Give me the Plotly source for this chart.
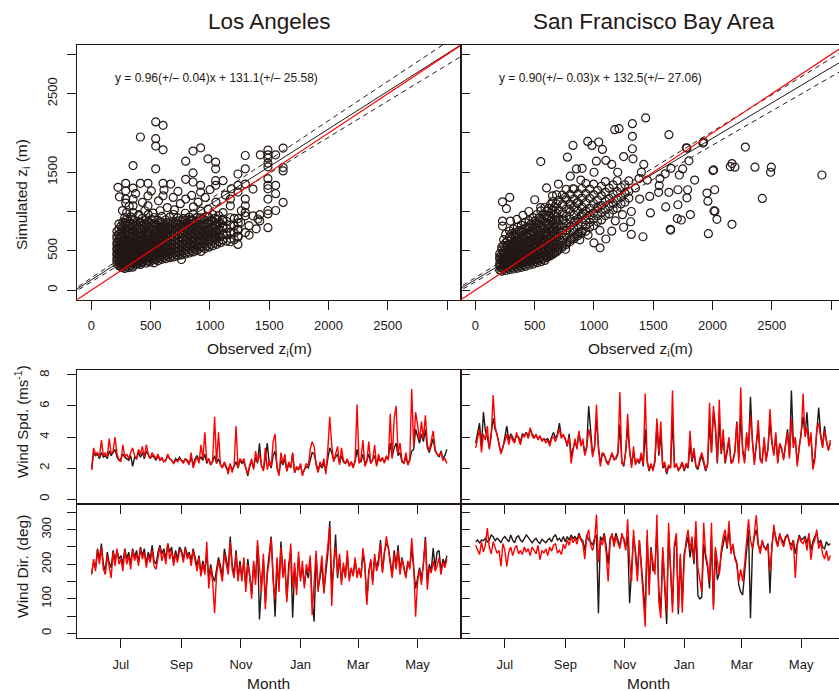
import pandas as pd
import plotly.graph_objects as go

W, H = 839, 691
INK = "#231815"
RED = "#ff0000"
FONT = "Liberation Sans, Arial, Helvetica, sans-serif"

cities = ["Los Angeles", "San Francisco Bay Area"]

# regression results: slope, slope error, intercept, intercept error
la_fit = [0.96, 0.04, 131.1, 25.58]
sf_fit = [0.90, 0.03, 132.5, 27.06]

# Los Angeles: observed z_i bins (m) and the simulated z_i (m) recorded in each bin
la_obs_bins = [215, 232, 248, 265, 281, 297, 314, 330, 347, 363, 380, 396, 413, 429, 446, 462,
               479, 495, 512, 528, 545, 561, 578, 594, 611, 627, 644, 660, 677, 693, 710, 726,
               743, 759, 776, 792, 809, 825, 842, 858, 875, 891, 908, 924, 941, 957, 974, 990,
               1007, 1023, 1040, 1056, 1073, 1089, 1106, 1139, 1172, 1205, 1238]
la_sim_by_bin = [
    [335, 372, 401, 447, 468, 512, 530, 577, 604, 655, 690, 748],
    [310, 352, 388, 421, 460, 493, 520, 566, 610, 642, 705, 770, 840],
    [296, 327, 369, 405, 441, 487, 515, 548, 592, 631, 684, 738, 812],
    [288, 334, 361, 398, 432, 470, 506, 547, 585, 622, 670, 731, 795, 866],
    [276, 318, 352, 389, 437, 459, 498, 536, 578, 627, 664, 712, 778, 852, 923],
    [301, 343, 382, 414, 453, 489, 527, 561, 603, 649, 697, 756, 829, 905, 988],
    [287, 325, 371, 408, 446, 471, 519, 553, 596, 638, 683, 741, 806, 877],
    [309, 347, 391, 428, 462, 503, 545, 582, 629, 674, 722, 788, 851, 932],
    [292, 338, 376, 417, 455, 496, 533, 571, 616, 667, 711, 769, 836, 902],
    [318, 356, 402, 441, 478, 519, 556, 601, 648, 693, 748, 817, 889],
    [331, 367, 409, 452, 486, 527, 569, 611, 659, 707, 763, 826],
    [341, 384, 423, 462, 501, 538, 583, 625, 677, 731, 792, 868, 947],
    [327, 372, 418, 457, 493, 534, 577, 619, 668, 718, 781, 853],
    [352, 394, 437, 476, 515, 558, 602, 651, 703, 762, 829, 914],
    [366, 405, 449, 488, 527, 566, 613, 661, 714, 779, 846],
    [344, 389, 432, 474, 512, 554, 597, 643, 691, 752, 818, 893],
    [371, 415, 458, 497, 538, 584, 628, 679, 735, 798, 872, 961],
    [358, 402, 447, 486, 528, 571, 617, 664, 721, 783, 853],
    [382, 426, 469, 511, 552, 596, 641, 693, 752, 819, 897],
    [347, 396, 441, 483, 525, 568, 612, 661, 717, 774, 842, 924],
    [389, 433, 476, 519, 561, 606, 656, 707, 768, 834],
    [373, 418, 463, 506, 548, 593, 642, 694, 751, 817, 889],
    [404, 447, 493, 536, 581, 628, 679, 737, 802, 871],
    [392, 437, 481, 527, 574, 622, 674, 728, 789, 858, 938],
    [417, 462, 508, 553, 601, 652, 707, 766, 834],
    [401, 448, 494, 541, 589, 641, 694, 753, 819, 893],
    [428, 474, 521, 569, 618, 671, 729, 792, 862],
    [413, 461, 508, 557, 607, 659, 716, 778, 847, 928],
    [437, 486, 534, 584, 636, 692, 752, 819],
    [422, 471, 521, 571, 624, 679, 738, 803, 877, 962],
    [449, 498, 549, 601, 656, 714, 777, 848],
    [436, 487, 538, 591, 646, 704, 768, 839, 918],
    [462, 513, 566, 621, 678, 739, 806, 881],
    [389, 447, 501, 554, 609, 667, 729, 797, 873],
    [474, 527, 582, 638, 697, 761, 832, 911],
    [459, 512, 567, 624, 683, 747, 816, 894, 978],
    [488, 543, 599, 657, 719, 786, 861],
    [472, 528, 584, 643, 706, 773, 848, 929],
    [501, 557, 616, 678, 743, 814, 893],
    [486, 543, 603, 666, 732, 804, 883, 968],
    [518, 576, 638, 703, 772, 849],
    [503, 562, 624, 691, 761, 838, 922],
    [531, 591, 656, 724, 797, 877],
    [492, 553, 617, 684, 756, 833, 918, 1004],
    [547, 609, 676, 746, 822, 905],
    [528, 592, 659, 731, 808, 891],
    [563, 627, 696, 769, 848, 934],
    [546, 612, 683, 758, 839, 927],
    [582, 649, 721, 798, 882],
    [564, 633, 706, 785, 869, 961],
    [601, 671, 746, 827, 914],
    [583, 655, 732, 814, 903],
    [619, 693, 772, 857, 949],
    [603, 678, 759, 846],
    [638, 714, 797, 886],
    [622, 701, 785, 876],
    [655, 738, 827, 921],
    [642, 726, 817, 914],
    [676, 762, 855],
]
# Los Angeles: remaining individual (observed, simulated) pairs
la_extra = [
    (224, 1308), (289, 1359), (289, 1264), (289, 1158), (289, 1107), (351, 1585), (351, 1299), (351, 1158),
    (351, 1073), (351, 987), (413, 1949), (413, 1359), (477, 1359), (477, 1200), (477, 1073), (542, 2141),
    (604, 2098), (542, 1927), (542, 1833), (604, 1786), (542, 1543), (604, 1359), (604, 1200), (669, 1350),
    (730, 1256), (795, 1641), (795, 1410), (795, 1158), (857, 1769), (857, 1492), (857, 1376), (921, 1811),
    (921, 1333), (921, 1248), (983, 1671), (983, 1030), (1048, 1628), (1048, 1543), (1048, 1393), (1048, 1333),
    (1110, 1393), (1110, 987), (1110, 902), (1110, 816), (1172, 1158), (1172, 1073), (1172, 731), (1172, 615),
    (1236, 1478), (1236, 1333), (1236, 1248), (1236, 774), (1236, 688), (1236, 581), (1298, 1713), (1298, 1543),
    (1298, 1350), (1298, 1158), (1298, 1073), (1298, 987), (1298, 945), (1298, 731), (1363, 1286), (1363, 945),
    (1420, 880), (1405, 905), (1425, 1722), (1489, 1782), (1489, 1722), (1489, 1679), (1489, 1615), (1489, 1569),
    (1489, 1418), (1489, 1333), (1489, 1290), (1489, 1158), (1489, 1013), (1489, 970), (1489, 795), (1554, 1722),
    (1554, 1333), (1554, 1227), (1554, 1013), (1617, 1808), (1617, 1560), (1617, 1517), (1617, 1116),
    (700, 1020), (750, 1100), (640, 1050), (580, 1010), (520, 980), (400, 960), (450, 1010), (860, 1060),
    (900, 1120), (960, 1180), (1000, 1280), (1050, 1120), (1130, 1210), (1260, 860), (1330, 820), (1390, 780),
    (1330, 700), (1420, 960), (262, 1012), (318, 1064), (236, 1187), (372, 1228), (430, 1116), (505, 1262),
    (566, 1136), (612, 1274), (690, 1180), (845, 1205), (1180, 1290), (1265, 1010), (1240, 910),
]

# San Francisco Bay Area: observed bins and simulated values in each bin
sf_obs_bins = [205, 222, 238, 255, 271, 288, 304, 321, 337, 354, 370, 387, 403, 420, 436, 453,
               469, 486, 502, 519, 535, 552, 568, 585, 601, 618, 634, 651, 667, 684, 700,
               733, 766, 799, 832, 865, 898, 931, 964, 997, 1030, 1063,
               1096, 1129, 1162, 1195, 1228, 1261, 1294]
sf_sim_by_bin = [
    [254, 312, 338, 395, 421, 463],
    [241, 279, 330, 371, 386, 447, 512, 548],
    [267, 298, 322, 369, 412, 458, 491, 566, 641],
    [249, 307, 344, 363, 402, 437, 482, 531, 602, 711],
    [276, 293, 327, 381, 425, 444, 509, 573, 628],
    [261, 318, 352, 373, 396, 466, 488, 557, 589, 673, 752],
    [287, 309, 341, 392, 447, 471, 536, 561, 644, 718],
    [268, 330, 358, 379, 428, 453, 502, 581, 603, 694, 779],
    [301, 322, 375, 416, 437, 489, 548, 571, 665, 733],
    [279, 341, 362, 388, 451, 468, 527, 609, 632, 711, 802],
    [312, 333, 389, 403, 466, 511, 538, 617, 679, 758],
    [289, 351, 368, 424, 445, 487, 562, 583, 661, 746, 827],
    [325, 347, 383, 441, 479, 505, 577, 638, 702, 769],
    [301, 361, 396, 417, 476, 527, 551, 629, 688, 781, 862],
    [338, 359, 421, 452, 483, 546, 597, 664, 729, 803],
    [319, 378, 401, 459, 488, 524, 603, 627, 716, 792, 884],
    [352, 371, 437, 468, 513, 572, 608, 693, 751, 842],
    [331, 392, 418, 473, 509, 551, 628, 659, 749, 826, 923],
    [367, 389, 448, 497, 532, 601, 641, 724, 798, 879],
    [349, 407, 441, 486, 547, 573, 661, 693, 787, 861, 962],
    [383, 401, 469, 518, 559, 628, 684, 752, 839, 916],
    [362, 426, 458, 507, 571, 603, 692, 738, 824, 903, 1007],
    [398, 421, 487, 541, 588, 659, 713, 791, 878, 961],
    [377, 441, 476, 529, 603, 632, 721, 784, 862, 948, 1051],
    [414, 436, 506, 562, 617, 688, 742, 831, 916, 1003],
    [428, 471, 522, 588, 641, 702, 779, 843, 947, 1041],
    [441, 463, 541, 597, 658, 734, 801, 887, 978, 1092],
    [456, 512, 551, 624, 679, 748, 833, 912, 1018, 1127],
    [473, 497, 579, 636, 702, 783, 852, 954, 1061],
    [488, 549, 587, 667, 721, 802, 889, 976, 1097, 1213],
    [509, 533, 618, 681, 749, 836, 909, 1022, 1138],
    [546, 569, 661, 728, 796, 889, 971, 1087, 1208],
    [581, 606, 702, 767, 849, 941, 1033, 1152, 1283],
    [617, 643, 741, 812, 902, 996, 1094, 1218],
    [654, 678, 783, 857, 953, 1053, 1161, 1287],
    [691, 715, 823, 903, 1006, 1112, 1227],
    [729, 753, 866, 948, 1058, 1171, 1293],
    [749, 823, 893, 1004, 1114, 1229, 1358],
    [801, 862, 951, 1043, 1168, 1287],
    [822, 909, 984, 1102, 1216, 1349],
    [873, 946, 1041, 1148, 1271],
    [893, 988, 1079, 1203, 1322],
    [949, 1023, 1131, 1246, 1381],
    [969, 1071, 1164, 1297],
    [1022, 1103, 1219, 1338],
    [1043, 1152, 1253, 1392],
    [1097, 1181, 1306],
    [1118, 1232, 1341],
    [1171, 1258, 1389],
]
sf_extra = [
    (1436, 2192), (1632, 1978), (1324, 2119), (1324, 1957), (1324, 1799), (1329, 1671), (2277, 1820), (1925, 1884),
    (1784, 1808), (1801, 1645), (2164, 1611), (2150, 1572), (2189, 1564), (2358, 1564), (2496, 1564), (2490, 1500),
    (2923, 1465), (2009, 1530), (1748, 1542), (1720, 1465), (1849, 1401), (1556, 1420), (1600, 1480), (1650, 1550),
    (2018, 1277), (1953, 1235), (1961, 1132), (1790, 1277), (1784, 1174), (1708, 1277), (1708, 1086), (1632, 1244),
    (1545, 1244), (1470, 1192), (1550, 1330), (2420, 1167), (1605, 1059), (2020, 1004), (2037, 901), (1813, 961),
    (1703, 910), (1737, 892), (1476, 982), (2164, 837), (1965, 718), (1647, 764), (1413, 679), (1315, 709),
    (1385, 1158), (1315, 1000), (1175, 2042), (1211, 2055), (947, 1892), (823, 1841), (983, 1841), (1040, 1885),
    (1071, 1790), (551, 1636), (776, 1692), (852, 1542), (1020, 1641), (1919, 1872), (1779, 1812), (2004, 1521),
    (2012, 1008), (1644, 773), (1051, 538), (228, 1123), (289, 1179), (261, 1038), (228, 879), (228, 815),
    (295, 879), (1400, 1500), (1450, 1400), (1350, 1300), (1380, 1420), (1420, 1600), (1200, 1500), (1150, 1600),
    (1100, 1650), (1250, 1700), (1000, 1500), (900, 1550), (600, 1300), (650, 1200), (500, 1150), (450, 1000),
    (400, 950), (350, 900), (550, 1050), (700, 1350), (800, 1450), (1150, 750), (1250, 800), (1100, 650),
    (1000, 600), (950, 700), (1180, 880), (1240, 960), (1050, 760), (880, 640), (1310, 870), (760, 520),
    (725, 610), (742, 905), (758, 1180), (771, 760), (790, 1030), (808, 655), (822, 1290), (841, 880),
    (856, 1110), (874, 735), (889, 1400), (905, 980),
]

# wind series sampled every second day from 1 June 2009
series_start = "2009-06-01"
series_step = "2D"

la_spd_obs = [
    1.9, 3.0, 2.8, 2.9, 2.6, 3.0, 2.7, 2.8, 2.6, 3.1, 2.8, 3.0, 3.2, 2.7, 2.5,
    2.6, 2.9, 2.7, 2.6, 2.5, 2.8, 2.1, 2.7, 2.6, 3.0, 2.7, 3.0, 2.6, 3.1, 2.8, 2.6, 2.8, 2.7, 2.5, 2.8, 2.5, 2.6, 2.4, 2.5, 2.8, 2.6, 2.5, 2.3, 2.6, 2.5, 2.7,
    2.5, 2.4, 2.6, 2.5, 2.3, 2.7, 2.2, 2.6, 2.8, 2.5, 2.7, 2.5, 2.9, 2.3, 2.6, 2.2, 2.4, 2.8, 2.3, 2.6, 2.2, 2.1, 2.3, 2.0, 1.9, 2.2, 1.9, 2.1, 2.4, 2.0, 2.5,
    2.3, 2.4, 2.0, 1.5, 2.1, 2.4, 2.0, 2.7, 2.3, 3.6, 2.1, 1.9, 2.6, 3.6, 2.3, 2.0, 2.8, 3.1, 2.1, 1.6, 2.5, 2.2, 2.6, 1.8, 2.3, 2.0, 2.9, 1.7, 2.0, 1.9, 2.2,
    1.6, 1.9, 2.1, 2.0, 2.6, 3.0, 2.9, 2.3, 1.8, 2.2, 2.0, 2.3, 1.8, 2.6, 3.3, 3.0, 2.5, 2.7, 2.9, 2.3, 2.8, 2.4, 2.3, 2.5, 2.2, 2.4, 2.1, 2.4, 3.2,
    2.5, 2.4, 2.9, 2.3, 2.5, 2.9, 2.3, 2.6, 2.8, 2.2, 2.6, 2.5, 2.6, 2.4, 2.7, 2.6, 3.6, 2.7, 3.3, 3.6, 2.8, 3.0, 2.4, 2.3, 2.7, 2.2, 2.5, 3.1, 3.2, 4.5, 4.0,
    3.6, 4.2, 3.7, 4.5, 3.3, 3.0, 3.5, 3.9, 3.1, 2.9, 2.7, 3.1, 2.6, 2.8, 3.2,
]
la_spd_sim = [
    1.9, 3.3, 2.9, 3.0, 2.7, 3.8, 2.8, 3.0, 2.7, 3.9, 2.9, 3.1, 4.0, 2.9, 2.5,
    2.4, 3.5, 2.7, 2.9, 2.6, 3.0, 3.3, 2.8, 2.6, 3.2, 2.9, 3.4, 2.7, 3.5, 2.9, 2.6, 3.0, 2.8, 2.6, 2.9, 2.5, 2.7, 2.4, 2.5, 2.9, 2.6, 2.5, 2.3, 2.5, 2.4, 2.6,
    2.5, 2.3, 2.6, 2.4, 2.2, 3.0, 2.0, 2.4, 2.7, 2.3, 3.5, 2.6, 4.3, 2.4, 2.6, 2.2, 2.5, 5.3, 2.3, 4.3, 2.2, 2.0, 2.4, 2.1, 1.6, 2.3, 1.7, 2.2, 4.7, 2.0, 2.6,
    2.4, 2.6, 2.0, 1.6, 2.2, 2.6, 1.9, 3.1, 2.4, 2.9, 2.2, 1.8, 3.3, 1.9, 2.5, 2.1, 3.7, 4.2, 2.0, 1.5, 3.0, 2.3, 2.9, 1.8, 2.4, 2.0, 3.0, 1.7, 2.1, 1.9, 2.3,
    1.5, 1.9, 2.3, 2.1, 3.2, 3.7, 3.4, 2.2, 1.7, 2.4, 2.1, 2.6, 1.6, 3.2, 5.3, 3.5, 2.4, 2.9, 3.4, 2.2, 3.3, 2.5, 2.3, 2.6, 2.1, 2.4, 2.0, 2.5, 6.1,
    2.3, 2.6, 3.8, 2.1, 2.4, 3.7, 2.3, 2.5, 3.5, 2.1, 2.9, 2.4, 2.7, 2.3, 2.8, 2.5, 5.5, 2.6, 5.2, 6.0, 2.9, 3.6, 2.5, 2.3, 3.0, 2.2, 2.6, 7.1, 3.4, 5.6, 4.8,
    3.8, 5.0, 3.9, 5.4, 3.5, 3.1, 3.7, 4.4, 3.2, 2.9, 2.8, 3.0, 2.5, 2.6, 2.3,
]
sf_spd_obs = [
    3.6, 4.3, 4.9, 3.4, 5.6, 4.4, 4.0, 3.3, 4.3, 5.2, 4.5, 4.2, 3.5, 3.0, 3.3,
    3.9, 4.7, 3.8, 4.2, 4.0, 3.7, 4.1, 4.0, 3.7, 4.2, 4.1, 4.3, 4.0, 4.5, 4.2, 4.0, 4.1, 3.9, 4.0, 3.8, 3.9, 3.8, 3.9, 3.6, 4.0, 4.3, 3.9, 4.2, 4.9, 4.0, 4.1,
    3.9, 3.4, 4.2, 2.8, 3.3, 3.7, 3.3, 4.3, 3.5, 3.7, 3.0, 3.4, 6.0, 4.2, 2.9, 3.3, 5.2, 3.4, 2.3, 2.9, 2.8, 2.5, 2.3, 2.6, 2.9, 2.6, 2.6, 2.9, 4.8, 2.4, 2.1,
    3.1, 4.6, 3.1, 2.2, 3.0, 2.3, 2.5, 2.3, 2.8, 2.1, 4.5, 2.4, 1.8, 2.2, 1.9, 2.4, 4.8, 2.8, 4.2, 2.0, 2.2, 1.6, 2.1, 2.0, 5.1, 2.1, 2.2, 1.9, 2.0, 2.3, 1.8,
    2.2, 2.0, 3.5, 2.4, 3.0, 2.1, 1.9, 2.4, 2.8, 2.3, 1.8, 2.2, 4.9, 3.0, 5.6, 4.6, 2.3, 5.0, 2.9, 4.0, 2.3, 3.0, 3.8, 2.4, 2.5, 3.1, 5.0, 2.6, 5.4,
    3.2, 2.5, 4.0, 3.3, 6.6, 3.7, 2.4, 3.4, 4.6, 2.6, 2.5, 3.8, 2.6, 3.3, 5.0, 3.6, 2.9, 4.1, 2.4, 3.5, 3.2, 2.6, 3.4, 4.5, 2.8, 7.0, 3.6, 3.9, 2.3, 3.3, 4.0,
    5.3, 4.1, 5.6, 3.5, 4.1, 2.2, 2.7, 4.3, 5.9, 4.2, 3.4, 4.7, 3.7, 3.2, 3.6,
]
sf_spd_sim = [
    3.3, 4.0, 4.5, 3.0, 4.2, 3.8, 4.7, 3.2, 4.0, 6.7, 4.7, 4.1, 3.6, 2.9, 3.4,
    3.7, 4.2, 3.5, 4.1, 3.8, 3.6, 4.3, 3.9, 3.5, 4.1, 4.0, 4.3, 3.9, 4.6, 4.1, 3.9, 4.2, 3.8, 4.1, 3.7, 3.9, 3.6, 3.8, 3.4, 3.9, 4.0, 3.7, 4.1, 4.5, 3.9, 4.2,
    3.8, 3.5, 4.0, 2.3, 3.1, 3.9, 3.2, 4.4, 3.4, 3.9, 2.8, 3.3, 4.5, 3.9, 2.7, 3.4, 6.1, 3.2, 2.1, 3.0, 2.9, 2.4, 2.2, 2.6, 3.0, 2.5, 2.7, 3.0, 6.9, 2.3, 2.2,
    3.0, 5.5, 3.2, 2.0, 3.4, 2.2, 2.6, 2.4, 3.0, 2.2, 6.8, 2.5, 1.9, 2.3, 1.8, 2.6, 5.2, 3.0, 5.0, 2.1, 2.4, 1.7, 2.2, 2.0, 7.0, 2.0, 2.3, 1.8, 2.1, 2.4, 1.9,
    2.3, 2.1, 4.4, 2.5, 3.3, 2.2, 2.0, 2.6, 3.0, 2.5, 1.9, 2.3, 6.2, 3.0, 6.0, 4.8, 2.4, 6.4, 3.0, 4.5, 2.4, 3.2, 4.0, 2.3, 2.4, 3.0, 4.9, 2.3, 7.2,
    3.0, 2.3, 4.3, 3.1, 5.4, 3.5, 2.2, 3.6, 5.1, 2.5, 2.3, 4.0, 2.4, 3.2, 5.8, 3.8, 2.8, 4.3, 2.3, 3.6, 3.3, 2.5, 3.5, 4.3, 2.6, 5.2, 3.3, 4.0, 2.1, 3.4, 4.1,
    6.8, 4.0, 4.6, 3.4, 4.3, 1.9, 2.5, 4.5, 4.9, 4.0, 3.3, 4.4, 3.6, 3.1, 3.8,
]

la_dir_obs = [
    175, 205, 190, 245, 215, 260, 200, 180, 235, 205, 190, 240, 210, 240, 215,
    225, 200, 245, 215, 235, 200, 245, 220, 240, 205, 250, 225, 245, 200, 235, 215, 255, 210, 200, 235, 255, 230, 245, 215, 260, 235, 250, 205, 240, 215, 250,
    240, 215, 250, 225, 235, 210, 245, 215, 195, 225, 175, 210, 180, 230, 160, 200, 165, 150, 185, 220, 195, 165, 245, 215, 185, 280, 200, 170, 240, 160, 210,
    160, 210, 135, 215, 170, 115, 200, 160, 255, 40, 140, 215, 90, 180, 230, 280, 165, 48, 200, 140, 266, 175, 190, 100, 200, 240, 45, 190, 130, 220, 160,
    190, 140, 185, 160, 210, 90, 34, 230, 130, 160, 200, 120, 180, 230, 325, 140, 190, 286, 160, 220, 150, 195, 165, 225, 160, 185, 170, 210, 175,
    180, 165, 230, 195, 92, 180, 210, 150, 220, 190, 215, 270, 180, 235, 260, 250, 215, 170, 240, 195, 255, 180, 220, 195, 165, 205, 190, 245, 190, 130, 160,
    190, 160, 200, 279, 150, 200, 180, 247, 190, 235, 240, 180, 215, 200, 225,
]
la_dir_sim = [
    170, 215, 180, 240, 200, 250, 185, 170, 225, 190, 160, 235, 195, 245, 200,
    215, 180, 240, 200, 225, 185, 240, 210, 230, 195, 245, 215, 235, 190, 225, 205, 240, 195, 185, 225, 250, 210, 235, 200, 260, 215, 240, 195, 230, 205, 240,
    235, 205, 245, 215, 230, 195, 240, 210, 180, 220, 165, 200, 170, 265, 130, 190, 150, 58, 170, 210, 180, 150, 230, 200, 170, 265, 185, 160, 230, 150, 200,
    150, 220, 120, 200, 165, 100, 210, 140, 270, 190, 120, 230, 70, 170, 210, 276, 150, 100, 220, 120, 250, 160, 215, 90, 180, 260, 130, 205, 110, 237, 150,
    210, 130, 200, 175, 225, 53, 150, 240, 120, 170, 225, 115, 200, 250, 310, 79, 200, 250, 170, 230, 140, 205, 160, 240, 150, 190, 165, 220, 160,
    190, 160, 247, 200, 82, 170, 215, 140, 230, 180, 200, 260, 175, 230, 281, 245, 200, 160, 230, 185, 240, 170, 215, 190, 160, 210, 185, 276, 200, 48, 150,
    184, 140, 205, 271, 126, 190, 175, 210, 180, 195, 220, 170, 205, 190, 215,
]
sf_dir_obs = [
    265, 270, 262, 270, 268, 275, 265, 270, 285, 280, 268, 275, 270, 262, 275,
    280, 272, 265, 285, 270, 262, 278, 282, 270, 265, 275, 285, 278, 268, 262, 270, 275, 265, 260, 272, 268, 262, 270, 275, 265, 280, 285, 270, 275, 265, 280,
    265, 280, 270, 285, 275, 280, 270, 290, 275, 268, 240, 285, 270, 265, 255, 275, 285, 58, 280, 268, 290, 250, 200, 275, 285, 262, 290, 270, 255, 280, 275,
    250, 280, 87, 200, 280, 240, 170, 270, 200, 130, 60, 280, 140, 250, 180, 190, 300, 120, 70, 240, 130, 27, 290, 170, 80, 250, 270, 55, 220, 90, 230,
    255, 280, 220, 260, 200, 300, 110, 100, 105, 260, 220, 190, 130, 280, 80, 240, 155, 175, 230, 260, 285, 245, 300, 240, 250, 220, 205, 140, 120,
    111, 180, 250, 300, 44, 240, 280, 300, 255, 240, 265, 250, 245, 260, 116, 255, 300, 275, 255, 285, 270, 260, 280, 285, 265, 255, 270, 230, 260, 285, 270,
    275, 280, 260, 285, 240, 265, 280, 290, 260, 270, 250, 245, 265, 255, 260,
]
sf_dir_sim = [
    255, 240, 228, 265, 235, 255, 305, 250, 230, 265, 245, 232, 240, 194, 260,
    240, 194, 235, 250, 225, 245, 255, 230, 240, 228, 250, 235, 245, 225, 250, 240, 230, 255, 213, 240, 232, 245, 225, 250, 238, 255, 260, 232, 240, 228, 258,
    245, 270, 255, 280, 262, 275, 258, 285, 270, 260, 215, 280, 300, 255, 240, 265, 344, 205, 270, 255, 285, 230, 150, 265, 290, 250, 280, 265, 245, 290, 270,
    240, 330, 210, 150, 300, 230, 150, 270, 180, 100, 19, 300, 110, 240, 200, 170, 344, 90, 44, 250, 150, 60, 320, 180, 60, 260, 290, 70, 230, 60, 210,
    270, 300, 240, 280, 210, 325, 190, 160, 120, 320, 230, 200, 150, 320, 68, 250, 210, 170, 240, 280, 300, 250, 325, 230, 260, 215, 200, 150, 185,
    150, 200, 260, 330, 270, 245, 290, 342, 260, 230, 270, 250, 240, 255, 180, 260, 315, 270, 250, 290, 265, 250, 275, 285, 260, 240, 270, 160, 255, 280, 265,
    260, 275, 240, 290, 213, 255, 270, 300, 245, 265, 230, 215, 240, 210, 225,
]

scatter_ticks = [0, 500, 1000, 1500, 2000, 2500]
scatter_tick_end = [3000]
scatter_ylab_ticks = [0, 500, 1500, 2500]
scatter_y_minor = [1000, 2000, 3000]
spd_ticks = [0, 2, 4, 6, 8]
dir_ticks = [0, 100, 200, 300]
dir_minor = [50, 150, 250, 350]
month_ticks = ["2009-07-01", "2009-09-01", "2009-11-01", "2010-01-01", "2010-03-01", "2010-05-01"]
month_labels = ["Jul", "Sep", "Nov", "Jan", "Mar", "May"]


def fx(px):
    return px / W


def fy(py):
    return 1 - py / H


def flatten(bins, by_bin, extra):
    xs, ys = [], []
    for b, vals in zip(bins, by_bin):
        for v in vals:
            xs.append(b)
            ys.append(v)
    for a, b in extra:
        xs.append(a)
        ys.append(b)
    return xs, ys


fig = go.Figure()

# ---- scatter panels -------------------------------------------------------
line_x = [-300, 3300]
panels = [
    (flatten(la_obs_bins, la_sim_by_bin, la_extra), la_fit, "x", "y"),
    (flatten(sf_obs_bins, sf_sim_by_bin, sf_extra), sf_fit, "x2", "y2"),
]
for (obs, sim), fit, xa, ya in panels:
    fig.add_trace(go.Scatter(
        x=obs, y=sim, mode="markers", xaxis=xa, yaxis=ya,
        marker=dict(symbol="circle-open", size=8, color=INK, line=dict(width=1.2, color=INK)),
        hoverinfo="skip"))
    a, da, b, db = fit
    for slope, icpt, dash in [(a + da, b + db, "5px,4px"), (a - da, b - db, "5px,4px"), (a, b, "solid")]:
        fig.add_trace(go.Scatter(
            x=line_x, y=[slope * v + icpt for v in line_x], mode="lines", xaxis=xa, yaxis=ya,
            line=dict(color=INK, width=1, dash=dash), hoverinfo="skip"))
    fig.add_trace(go.Scatter(
        x=line_x, y=line_x, mode="lines", xaxis=xa, yaxis=ya,
        line=dict(color=RED, width=1.2), hoverinfo="skip"))

# ---- wind time series -----------------------------------------------------
series = [
    (la_spd_obs, la_spd_sim, "x3", "y3"),
    (sf_spd_obs, sf_spd_sim, "x4", "y4"),
    (la_dir_obs, la_dir_sim, "x5", "y5"),
    (sf_dir_obs, sf_dir_sim, "x6", "y6"),
]
for obs, sim, xa, ya in series:
    d_obs = pd.date_range(series_start, periods=len(obs), freq=series_step)
    d_sim = pd.date_range(series_start, periods=len(sim), freq=series_step)
    fig.add_trace(go.Scatter(x=d_obs, y=obs, mode="lines", xaxis=xa, yaxis=ya,
                             line=dict(color=INK, width=1.4), hoverinfo="skip"))
    fig.add_trace(go.Scatter(x=d_sim, y=sim, mode="lines", xaxis=xa, yaxis=ya,
                             line=dict(color=RED, width=1.4), hoverinfo="skip"))

# ---- axes -----------------------------------------------------------------
left_dom = [fx(77), fx(461)]
right_dom = [fx(461), 1.0]
top_dom = [fy(299.5), fy(45)]
mid_dom = [fy(504), fy(370)]
bot_dom = [fy(638.3), fy(504)]

base = dict(showgrid=False, zeroline=False, showline=True, linecolor=INK, linewidth=1,
            ticks="outside", ticklen=9, tickwidth=1, tickcolor=INK,
            tickfont=dict(family=FONT, size=13, color=INK), ticklabelstandoff=5)


def ax(**kw):
    d = dict(base)
    d.update(kw)
    return d


def minor(vals, side="outside"):
    return dict(tickvals=vals, ticks=side, ticklen=9, tickwidth=1, tickcolor=INK, showgrid=False)


date_l = ["2009-05-17", "2010-06-14 12:00"]
date_r = ["2009-05-17", "2010-06-08 20:00"]

fig.update_layout(
    width=W, height=H, margin=dict(l=0, r=0, t=0, b=0),
    paper_bgcolor="white", plot_bgcolor="white", showlegend=False,
    font=dict(family=FONT, color=INK),
    xaxis=ax(domain=left_dom, anchor="y", range=[-122, 3118], tickvals=scatter_ticks,
             minor=minor(scatter_tick_end), mirror=True),
    yaxis=ax(domain=top_dom, anchor="x", range=[-120, 3120], tickvals=scatter_ylab_ticks,
             minor=minor(scatter_y_minor), tickangle=-90, mirror=True),
    xaxis2=ax(domain=right_dom, anchor="y2", range=[-122, 3067], tickvals=scatter_ticks,
              minor=minor(scatter_tick_end), mirror=True),
    yaxis2=ax(domain=top_dom, anchor="x2", range=[-120, 3120],
              tickvals=scatter_ylab_ticks + scatter_y_minor,
              ticks="inside", showticklabels=False),
    xaxis3=ax(domain=left_dom, anchor="y3", type="date", range=date_l, tickvals=month_ticks,
              showticklabels=False, mirror=True),
    yaxis3=ax(domain=mid_dom, anchor="x3", range=[-0.32, 8.32], tickvals=spd_ticks,
              tickangle=-90, mirror=True, ticklabelstandoff=13),
    xaxis4=ax(domain=right_dom, anchor="y4", type="date", range=date_r, tickvals=month_ticks,
              showticklabels=False, mirror=True),
    yaxis4=ax(domain=mid_dom, anchor="x4", range=[-0.32, 8.32], tickvals=spd_ticks,
              ticks="inside", showticklabels=False),
    xaxis5=ax(domain=left_dom, anchor="y5", type="date", range=date_l, tickvals=month_ticks,
              ticktext=month_labels, mirror=True),
    yaxis5=ax(domain=bot_dom, anchor="x5", range=[-14.4, 374.4], tickvals=dir_ticks,
              minor=minor(dir_minor), tickangle=-90, mirror=True, ticklabelstandoff=11),
    xaxis6=ax(domain=right_dom, anchor="y6", type="date", range=date_r, tickvals=month_ticks,
              ticktext=month_labels, mirror=True),
    yaxis6=ax(domain=bot_dom, anchor="x6", range=[-14.4, 374.4], tickvals=dir_ticks + dir_minor,
              ticks="inside", showticklabels=False),
)


def note(text, px, py, size, angle=0):
    fig.add_annotation(text=text, x=fx(px), y=fy(py), xref="paper", yref="paper",
                       showarrow=False, xanchor="center", yanchor="middle", textangle=angle,
                       font=dict(family=FONT, size=size, color=INK))


def fit_text(f):
    a, da, b, db = f
    return f"y = {a:.2f}(+/\u2013 {da:.2f})x + {b:.1f}(+/\u2013 {db:.2f})"


note(cities[0], 269, 22, 22.5)
note(cities[1], 653.5, 22, 22.5)
note(fit_text(la_fit), 216, 78, 12)
note(fit_text(sf_fit), 600, 78, 12)
note("Simulated z<sub>i</sub> (m)", 22, 195, 15.5, -90)
note("Observed z<sub>i</sub>(m)", 259, 349, 15.5)
note("Observed z<sub>i</sub>(m)", 640, 349, 15.5)
note("Wind Spd. (ms<sup>-1</sup>)", 22, 422, 15, -90)
note("Wind Dir. (deg)", 22, 567, 15.5, -90)
note("Month", 268, 683, 15.5)
note("Month", 648, 683, 15.5)

fig.write_html("out.html")
